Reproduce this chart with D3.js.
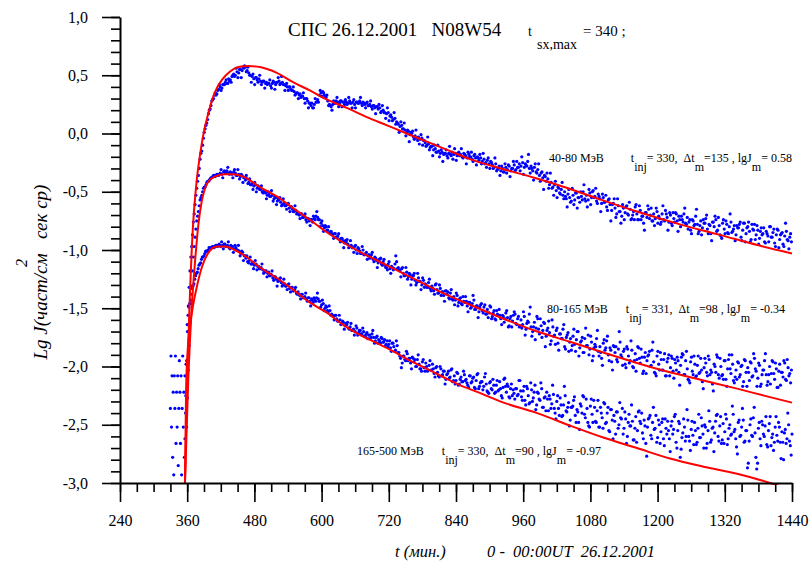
<!DOCTYPE html>
<html>
<head>
<meta charset="utf-8">
<script src="https://cdn.jsdelivr.net/npm/d3@7"></script>
<style>
  body { margin: 0; background: #fff; }
  text { font-family: "Liberation Serif", "Times New Roman", serif; fill: #000; }
</style>
</head>
<body>
<svg id="chart"></svg>
<script>
const width = 812, height = 564;

// axis ticks
const xTicks = [240, 360, 480, 600, 720, 840, 960, 1080, 1200, 1320, 1440];
const yTicks = [-3.0, -2.5, -2.0, -1.5, -1.0, -0.5, 0.0, 0.5, 1.0];

// measured points: two interleaved runs per channel, each one point every 3 min
const step = 3;

// 40-80 MeV
const s1Start = 356;
const s1Values = [
  -2.62, -1.95, -1.48, -1.18, -0.97, -0.76, -0.61, -0.47, -0.36, -0.22, -0.15, -0.04, 0.04, 0.09, 0.17, 0.21, 0.28, 0.30, 0.35, 0.34,
  0.38, 0.40, 0.39, 0.42, 0.44, 0.43, 0.47, 0.46, 0.49, 0.51, 0.50, 0.53, 0.52, 0.55, 0.54, 0.56, 0.57, 0.54, 0.52, 0.50,
  0.49, 0.47, 0.48, 0.46, 0.47, 0.45, 0.44, 0.45, 0.43, 0.42, 0.43, 0.41, 0.43, 0.44, 0.42, 0.44, 0.45, 0.43, 0.44, 0.42,
  0.41, 0.40, 0.40, 0.38, 0.37, 0.36, 0.34, 0.35, 0.33, 0.31, 0.32, 0.30, 0.30, 0.28, 0.26, 0.24, 0.22, 0.25, 0.27, 0.29,
  0.33, 0.35, 0.36, 0.33, 0.31, 0.28, 0.25, 0.23, 0.25, 0.26, 0.28, 0.27, 0.26, 0.28, 0.27, 0.25, 0.27, 0.26, 0.28, 0.26,
  0.27, 0.25, 0.27, 0.26, 0.28, 0.26, 0.27, 0.25, 0.26, 0.24, 0.25, 0.23, 0.24, 0.22, 0.23, 0.21, 0.22, 0.19, 0.20, 0.18,
  0.17, 0.18, 0.15, 0.14, 0.12, 0.13, 0.10, 0.08, 0.06, 0.07, 0.04, 0.03, 0.01, 0.02, -0.01, 0.00, -0.03, -0.02, -0.04, -0.03,
  -0.05, -0.04, -0.06, -0.08, -0.10, -0.09, -0.12, -0.11, -0.14, -0.13, -0.16, -0.15, -0.17, -0.16, -0.18, -0.17, -0.19, -0.17, -0.18, -0.16,
  -0.18, -0.17, -0.19, -0.16, -0.18, -0.20, -0.17, -0.19, -0.21, -0.18, -0.20, -0.22, -0.19, -0.21, -0.20, -0.23, -0.21, -0.24, -0.22, -0.25,
  -0.23, -0.26, -0.24, -0.27, -0.29, -0.26, -0.31, -0.28, -0.32, -0.30, -0.33, -0.29, -0.31, -0.28, -0.32, -0.30, -0.27, -0.31, -0.29, -0.26,
  -0.28, -0.25, -0.29, -0.27, -0.24, -0.30, -0.28, -0.32, -0.29, -0.33, -0.31, -0.36, -0.34, -0.38, -0.36, -0.41, -0.39, -0.44, -0.42, -0.46,
  -0.44, -0.49, -0.46, -0.51, -0.48, -0.53, -0.50, -0.56, -0.52, -0.55, -0.58, -0.53, -0.57, -0.51, -0.55, -0.59, -0.54, -0.50, -0.56, -0.53,
  -0.57, -0.51, -0.55, -0.49, -0.54, -0.58, -0.52, -0.56, -0.60, -0.55, -0.59, -0.63, -0.57, -0.61, -0.66, -0.60, -0.64, -0.69, -0.62, -0.67,
  -0.71, -0.64, -0.68, -0.62, -0.70, -0.65, -0.73, -0.67, -0.63, -0.69, -0.74, -0.66, -0.71, -0.77, -0.68, -0.72, -0.65, -0.70, -0.75, -0.69,
  -0.73, -0.67, -0.71, -0.78, -0.69, -0.74, -0.66, -0.72, -0.76, -0.70, -0.79, -0.73, -0.68, -0.75, -0.71, -0.80, -0.74, -0.69, -0.77, -0.72,
  -0.76, -0.83, -0.74, -0.79, -0.71, -0.78, -0.84, -0.75, -0.81, -0.77, -0.73, -0.82, -0.78, -0.86, -0.76, -0.80, -0.74, -0.83, -0.79, -0.88,
  -0.77, -0.82, -0.75, -0.85, -0.80, -0.76, -0.84, -0.79, -0.87, -0.81, -0.78, -0.89, -0.83, -0.77, -0.86, -0.80, -0.84, -0.91, -0.82, -0.78,
  -0.87, -0.83, -0.90, -0.81, -0.86, -0.93, -0.84, -0.88, -0.80, -0.89, -0.85, -0.94, -0.87, -0.83, -0.91, -0.86, -0.95, -0.88, -0.84, -0.92,
  -0.89, -0.93
];
const s1bStart = 357.5;
const s1bValues = [
  -2.25, -1.70, -1.32, -1.06, -0.87, -0.69, -0.53, -0.41, -0.30, -0.17, -0.10, 0.01, 0.07, 0.12, 0.20, 0.24, 0.29, 0.33, 0.33, 0.37,
  0.42, 0.37, 0.42, 0.42, 0.46, 0.43, 0.45, 0.44, 0.50, 0.49, 0.56, 0.48, 0.55, 0.48, 0.57, 0.58, 0.53, 0.57, 0.50, 0.44,
  0.51, 0.42, 0.48, 0.44, 0.50, 0.42, 0.45, 0.39, 0.44, 0.43, 0.46, 0.39, 0.45, 0.38, 0.44, 0.48, 0.42, 0.49, 0.42, 0.37,
  0.43, 0.37, 0.40, 0.37, 0.40, 0.33, 0.35, 0.30, 0.34, 0.32, 0.35, 0.26, 0.30, 0.22, 0.26, 0.26, 0.22, 0.30, 0.27, 0.27,
  0.37, 0.32, 0.35, 0.31, 0.33, 0.24, 0.24, 0.20, 0.28, 0.26, 0.31, 0.23, 0.28, 0.23, 0.27, 0.29, 0.25, 0.31, 0.26, 0.22,
  0.29, 0.22, 0.27, 0.26, 0.31, 0.24, 0.26, 0.22, 0.27, 0.24, 0.28, 0.21, 0.24, 0.17, 0.23, 0.25, 0.18, 0.24, 0.18, 0.13,
  0.22, 0.11, 0.16, 0.11, 0.18, 0.08, 0.09, 0.01, 0.10, 0.04, 0.09, -0.02, 0.03, -0.07, 0.01, 0.02, -0.05, 0.03, -0.06, -0.09,
  -0.01, -0.10, -0.06, -0.11, -0.03, -0.14, -0.11, -0.19, -0.10, -0.16, -0.10, -0.20, -0.14, -0.24, -0.17, -0.14, -0.21, -0.11, -0.19, -0.22,
  -0.13, -0.23, -0.17, -0.19, -0.13, -0.21, -0.18, -0.26, -0.16, -0.20, -0.16, -0.24, -0.18, -0.27, -0.21, -0.18, -0.26, -0.17, -0.26, -0.29,
  -0.21, -0.30, -0.25, -0.30, -0.21, -0.32, -0.30, -0.36, -0.28, -0.33, -0.26, -0.34, -0.27, -0.37, -0.30, -0.24, -0.32, -0.24, -0.29, -0.32,
  -0.20, -0.35, -0.26, -0.28, -0.18, -0.34, -0.30, -0.40, -0.26, -0.34, -0.26, -0.41, -0.33, -0.48, -0.37, -0.34, -0.47, -0.34, -0.47, -0.53,
  -0.41, -0.55, -0.47, -0.52, -0.42, -0.56, -0.54, -0.63, -0.48, -0.59, -0.47, -0.61, -0.51, -0.64, -0.55, -0.50, -0.57, -0.44, -0.58, -0.63,
  -0.48, -0.61, -0.50, -0.55, -0.47, -0.60, -0.54, -0.67, -0.52, -0.59, -0.53, -0.66, -0.56, -0.75, -0.61, -0.56, -0.72, -0.56, -0.67, -0.77,
  -0.61, -0.74, -0.63, -0.69, -0.59, -0.74, -0.70, -0.74, -0.61, -0.74, -0.62, -0.74, -0.71, -0.83, -0.68, -0.62, -0.73, -0.64, -0.75, -0.79,
  -0.64, -0.77, -0.73, -0.76, -0.62, -0.75, -0.69, -0.83, -0.68, -0.77, -0.68, -0.76, -0.69, -0.84, -0.74, -0.71, -0.76, -0.64, -0.78, -0.82,
  -0.74, -0.86, -0.75, -0.78, -0.65, -0.86, -0.79, -0.87, -0.74, -0.77, -0.70, -0.86, -0.79, -0.92, -0.76, -0.71, -0.84, -0.72, -0.87, -0.90,
  -0.74, -0.86, -0.78, -0.86, -0.69, -0.85, -0.82, -0.92, -0.79, -0.81, -0.76, -0.92, -0.77, -0.93, -0.81, -0.76, -0.93, -0.78, -0.83, -0.91,
  -0.79, -0.95, -0.84, -0.87, -0.81, -0.94, -0.86, -0.93, -0.80, -0.89, -0.82, -0.97, -0.82, -0.98, -0.87, -0.85, -0.97, -0.77, -0.91, -0.99,
  -0.86
];

// 80-165 MeV
const s2Start = 359;
const s2Values = [
  -2.52, -2.03, -1.62, -1.31, -1.06, -0.89, -0.75, -0.67, -0.57, -0.53, -0.47, -0.46, -0.42, -0.41, -0.39, -0.38, -0.36, -0.37, -0.35, -0.36,
  -0.34, -0.35, -0.33, -0.34, -0.32, -0.34, -0.33, -0.35, -0.33, -0.34, -0.36, -0.35, -0.37, -0.36, -0.38, -0.40, -0.39, -0.42, -0.44, -0.43,
  -0.45, -0.44, -0.47, -0.46, -0.48, -0.50, -0.49, -0.51, -0.53, -0.52, -0.54, -0.53, -0.56, -0.55, -0.58, -0.57, -0.59, -0.61, -0.60, -0.62,
  -0.61, -0.64, -0.63, -0.65, -0.67, -0.66, -0.68, -0.70, -0.69, -0.72, -0.71, -0.74, -0.73, -0.75, -0.74, -0.76, -0.73, -0.71, -0.72, -0.74,
  -0.77, -0.79, -0.81, -0.80, -0.83, -0.85, -0.84, -0.87, -0.86, -0.89, -0.88, -0.91, -0.90, -0.92, -0.94, -0.93, -0.95, -0.97, -0.96, -0.98,
  -0.97, -1.00, -0.98, -1.01, -1.03, -1.00, -1.04, -1.02, -1.05, -1.07, -1.04, -1.08, -1.06, -1.09, -1.11, -1.08, -1.12, -1.10, -1.13, -1.15,
  -1.12, -1.16, -1.14, -1.17, -1.12, -1.10, -1.15, -1.18, -1.16, -1.20, -1.22, -1.19, -1.23, -1.21, -1.25, -1.22, -1.26, -1.28, -1.24, -1.27,
  -1.30, -1.26, -1.29, -1.32, -1.28, -1.33, -1.31, -1.35, -1.30, -1.34, -1.37, -1.33, -1.36, -1.39, -1.35, -1.38, -1.41, -1.37, -1.42, -1.40,
  -1.43, -1.39, -1.45, -1.41, -1.47, -1.44, -1.40, -1.48, -1.45, -1.50, -1.46, -1.43, -1.51, -1.48, -1.53, -1.47, -1.52, -1.49, -1.55, -1.51,
  -1.54, -1.49, -1.57, -1.52, -1.60, -1.55, -1.51, -1.59, -1.56, -1.62, -1.54, -1.58, -1.65, -1.57, -1.61, -1.53, -1.63, -1.59, -1.66, -1.60,
  -1.64, -1.57, -1.68, -1.61, -1.55, -1.66, -1.70, -1.62, -1.67, -1.59, -1.72, -1.65, -1.69, -1.63, -1.74, -1.67, -1.71, -1.78, -1.66, -1.73,
  -1.69, -1.80, -1.72, -1.76, -1.68, -1.83, -1.75, -1.71, -1.79, -1.86, -1.74, -1.81, -1.77, -1.70, -1.84, -1.78, -1.88, -1.76, -1.82, -1.73,
  -1.85, -1.79, -1.91, -1.81, -1.76, -1.87, -1.83, -1.93, -1.80, -1.86, -1.78, -1.90, -1.84, -1.96, -1.82, -1.88, -1.94, -1.85, -1.79, -1.92,
  -1.87, -1.98, -1.83, -1.91, -1.95, -1.86, -2.01, -1.89, -1.94, -1.84, -1.97, -1.92, -2.04, -1.88, -1.95, -1.90, -2.00, -1.86, -1.96, -2.06,
  -1.91, -1.98, -1.88, -2.03, -1.94, -2.08, -1.96, -1.90, -2.01, -1.93, -2.10, -1.97, -1.92, -2.05, -1.99, -1.89, -2.07, -1.95, -2.02, -2.12,
  -1.96, -2.04, -1.91, -2.09, -1.99, -2.06, -1.93, -2.13, -2.01, -1.97, -2.08, -1.94, -2.03, -2.15, -1.98, -2.05, -1.92, -2.10, -2.00, -2.07,
  -1.95, -2.11, -2.02, -1.90, -2.06, -1.98, -2.14, -2.03, -1.96, -2.09, -2.00, -2.17, -1.94, -2.05, -2.01, -2.12, -1.97, -2.08, -1.93, -2.04,
  -2.10, -1.99, -2.15, -2.03, -1.95, -2.07, -2.13, -2.00, -2.06, -1.96, -2.11, -2.02, -2.18, -1.98, -2.05, -2.09, -1.97, -2.12, -2.01, -2.06,
  -2.03
];
const s2bStart = 360.5;
const s2bValues = [
  -2.27, -1.82, -1.46, -1.18, -0.97, -0.82, -0.71, -0.62, -0.55, -0.50, -0.46, -0.44, -0.41, -0.40, -0.38, -0.37, -0.36, -0.36, -0.35, -0.35,
  -0.31, -0.38, -0.32, -0.34, -0.29, -0.35, -0.34, -0.38, -0.31, -0.36, -0.31, -0.39, -0.35, -0.42, -0.38, -0.36, -0.43, -0.39, -0.44, -0.48,
  -0.42, -0.50, -0.45, -0.48, -0.45, -0.51, -0.50, -0.56, -0.50, -0.54, -0.49, -0.58, -0.54, -0.61, -0.56, -0.55, -0.62, -0.56, -0.62, -0.65,
  -0.60, -0.67, -0.63, -0.67, -0.62, -0.69, -0.69, -0.73, -0.69, -0.72, -0.69, -0.76, -0.73, -0.79, -0.74, -0.71, -0.74, -0.67, -0.74, -0.80,
  -0.75, -0.84, -0.79, -0.83, -0.80, -0.86, -0.86, -0.90, -0.86, -0.89, -0.86, -0.93, -0.90, -0.98, -0.92, -0.91, -0.98, -0.92, -0.98, -1.02,
  -0.96, -1.03, -0.99, -1.03, -0.97, -1.04, -1.03, -1.08, -1.04, -1.06, -1.02, -1.10, -1.07, -1.15, -1.08, -1.07, -1.13, -1.08, -1.15, -1.17,
  -1.10, -1.20, -1.15, -1.16, -1.05, -1.16, -1.17, -1.23, -1.15, -1.22, -1.15, -1.25, -1.20, -1.30, -1.22, -1.20, -1.30, -1.20, -1.27, -1.34,
  -1.24, -1.32, -1.30, -1.32, -1.25, -1.35, -1.33, -1.38, -1.29, -1.37, -1.30, -1.39, -1.36, -1.44, -1.35, -1.36, -1.42, -1.34, -1.43, -1.47,
  -1.37, -1.48, -1.42, -1.46, -1.40, -1.45, -1.44, -1.53, -1.45, -1.49, -1.39, -1.51, -1.48, -1.58, -1.49, -1.46, -1.54, -1.47, -1.55, -1.58,
  -1.48, -1.59, -1.54, -1.59, -1.52, -1.56, -1.56, -1.64, -1.57, -1.59, -1.52, -1.66, -1.59, -1.66, -1.56, -1.55, -1.64, -1.57, -1.65, -1.67,
  -1.53, -1.73, -1.63, -1.62, -1.49, -1.74, -1.66, -1.77, -1.57, -1.68, -1.59, -1.75, -1.62, -1.83, -1.69, -1.61, -1.81, -1.60, -1.74, -1.81,
  -1.67, -1.86, -1.72, -1.76, -1.64, -1.85, -1.73, -1.87, -1.76, -1.82, -1.68, -1.87, -1.70, -1.91, -1.79, -1.75, -1.88, -1.67, -1.82, -1.90,
  -1.74, -1.95, -1.84, -1.83, -1.69, -1.91, -1.88, -1.99, -1.77, -1.84, -1.74, -1.95, -1.86, -2.03, -1.83, -1.83, -1.96, -1.70, -1.90, -1.99,
  -1.85, -2.01, -1.85, -1.97, -1.78, -2.00, -1.95, -2.04, -1.83, -1.93, -1.85, -2.06, -1.92, -2.06, -1.91, -1.87, -1.99, -1.79, -2.05, -2.08,
  -1.87, -2.03, -1.94, -2.03, -1.89, -2.08, -1.93, -2.08, -1.91, -2.04, -1.94, -2.03, -1.95, -2.16, -1.92, -1.90, -2.07, -1.87, -2.11, -2.14,
  -1.92, -2.07, -1.98, -2.08, -1.91, -2.05, -2.03, -2.19, -1.93, -2.05, -1.91, -2.07, -2.05, -2.21, -2.00, -1.90, -2.07, -1.93, -2.08, -2.11,
  -1.95, -2.17, -1.94, -2.02, -1.90, -2.12, -2.09, -2.11, -1.97, -2.07, -1.99, -2.13, -1.95, -2.17, -2.05, -1.96, -2.09, -1.89, -2.02, -2.17,
  -1.97, -2.17, -2.07, -2.03, -1.89, -2.16, -2.07, -2.15, -1.95, -2.06, -1.97, -2.18, -2.04, -2.16, -2.05, -1.95, -2.11, -1.94, -2.08, -2.14
];

// 165-500 MeV: background before onset (1 min), then the event
const s3BgStart = 330;
const s3BgValues = [
  -2.36, -1.91, -2.52, -2.08, -2.78, -2.22, -2.93, -2.08, -2.36, -1.91, -2.66, -2.22, -2.52, -2.08, -2.85,
  -2.36, -1.95, -2.22, -2.66, -2.08, -2.93, -2.36, -1.91, -2.52, -2.22, -2.78, -2.08, -2.40, -1.98
];
const s3Start = 360;
const s3Values = [
  -1.64, -1.49, -1.43, -1.33, -1.29, -1.22, -1.19, -1.13, -1.11, -1.06, -1.05, -1.01, -1.01, -0.98, -0.99, -0.97, -0.98, -0.96, -0.97, -0.95,
  -0.97, -0.96, -0.95, -0.97, -0.96, -0.98, -0.96, -0.97, -0.99, -0.98, -1.00, -1.01, -1.03, -1.02, -1.05, -1.07, -1.10, -1.09, -1.12, -1.11,
  -1.13, -1.12, -1.14, -1.16, -1.15, -1.17, -1.19, -1.18, -1.20, -1.22, -1.21, -1.24, -1.23, -1.25, -1.27, -1.26, -1.28, -1.30, -1.29, -1.31,
  -1.30, -1.33, -1.32, -1.35, -1.34, -1.37, -1.36, -1.39, -1.38, -1.41, -1.40, -1.42, -1.41, -1.44, -1.42, -1.45, -1.43, -1.41, -1.42, -1.44,
  -1.47, -1.46, -1.50, -1.49, -1.53, -1.52, -1.55, -1.57, -1.56, -1.59, -1.61, -1.60, -1.63, -1.62, -1.65, -1.64, -1.67, -1.66, -1.69, -1.68,
  -1.70, -1.67, -1.71, -1.69, -1.72, -1.70, -1.74, -1.71, -1.73, -1.76, -1.72, -1.75, -1.78, -1.74, -1.77, -1.80, -1.76, -1.79, -1.82, -1.78,
  -1.81, -1.84, -1.80, -1.83, -1.86, -1.82, -1.88, -1.93, -1.97, -1.91, -1.95, -1.89, -1.93, -1.97, -1.92, -1.96, -2.00, -1.94, -1.98, -2.02,
  -1.96, -2.01, -1.97, -2.04, -1.99, -2.03, -1.98, -2.06, -2.01, -2.05, -2.09, -2.02, -2.07, -2.04, -2.11, -2.06, -2.10, -2.03, -2.13, -2.08,
  -2.12, -2.06, -2.15, -2.09, -2.13, -2.07, -2.11, -2.16, -2.08, -2.14, -2.10, -2.18, -2.12, -2.06, -2.17, -2.13, -2.20, -2.09, -2.15, -2.22,
  -2.14, -2.19, -2.11, -2.23, -2.16, -2.21, -2.13, -2.25, -2.18, -2.10, -2.22, -2.17, -2.27, -2.15, -2.20, -2.28, -2.19, -2.24, -2.12, -2.26,
  -2.21, -2.29, -2.17, -2.25, -2.31, -2.20, -2.27, -2.16, -2.33, -2.23, -2.29, -2.19, -2.35, -2.26, -2.22, -2.38, -2.28, -2.32, -2.24, -2.40,
  -2.30, -2.36, -2.27, -2.43, -2.33, -2.25, -2.39, -2.31, -2.46, -2.35, -2.29, -2.42, -2.37, -2.48, -2.32, -2.40, -2.26, -2.44, -2.36, -2.51,
  -2.34, -2.41, -2.29, -2.47, -2.38, -2.52, -2.35, -2.44, -2.31, -2.49, -2.40, -2.55, -2.37, -2.46, -2.42, -2.58, -2.39, -2.50, -2.44, -2.36,
  -2.53, -2.45, -2.60, -2.41, -2.51, -2.47, -2.63, -2.43, -2.55, -2.38, -2.49, -2.57, -2.46, -2.66, -2.52, -2.44, -2.59, -2.48, -2.54, -2.42,
  -2.61, -2.50, -2.56, -2.45, -2.68, -2.53, -2.47, -2.62, -2.51, -2.58, -2.43, -2.65, -2.55, -2.49, -2.71, -2.57, -2.52, -2.60, -2.46, -2.64,
  -2.54, -2.59, -2.48, -2.67, -2.53, -2.61, -2.44, -2.58, -2.50, -2.70, -2.55, -2.47, -2.63, -2.52, -2.57, -2.42, -2.60, -2.51, -2.66, -2.49,
  -2.56, -2.45, -2.62, -2.50, -2.58, -2.41, -2.54, -2.69, -2.48, -2.60, -2.52, -2.46, -2.64, -2.55, -2.83, -2.50, -2.59, -2.44, -2.57, -2.88,
  -2.53, -2.62, -2.47, -2.58, -2.51, -2.67, -2.55, -2.43, -2.61, -2.72, -2.52, -2.59, -2.48, -2.65, -2.56, -2.80, -2.54, -2.62, -2.50, -2.68,
  -2.58
];
const s3bStart = 361.5;
const s3bValues = [
  -1.56, -1.46, -1.38, -1.31, -1.25, -1.20, -1.16, -1.12, -1.08, -1.06, -1.03, -1.01, -1.00, -0.98, -0.98, -0.97, -0.97, -0.96, -0.96, -0.96,
  -0.93, -0.99, -0.95, -0.97, -0.93, -0.99, -0.97, -1.02, -0.96, -1.00, -0.96, -1.05, -1.01, -1.09, -1.05, -1.05, -1.11, -1.06, -1.12, -1.16,
  -1.09, -1.17, -1.14, -1.16, -1.12, -1.20, -1.18, -1.23, -1.19, -1.22, -1.18, -1.26, -1.23, -1.31, -1.25, -1.24, -1.31, -1.25, -1.31, -1.34,
  -1.29, -1.36, -1.32, -1.35, -1.32, -1.38, -1.38, -1.42, -1.38, -1.41, -1.37, -1.44, -1.41, -1.48, -1.43, -1.41, -1.44, -1.37, -1.44, -1.49,
  -1.43, -1.52, -1.48, -1.52, -1.48, -1.56, -1.56, -1.60, -1.56, -1.61, -1.56, -1.64, -1.61, -1.68, -1.63, -1.62, -1.68, -1.63, -1.69, -1.73,
  -1.65, -1.73, -1.69, -1.72, -1.67, -1.74, -1.72, -1.76, -1.73, -1.75, -1.69, -1.80, -1.75, -1.80, -1.78, -1.75, -1.79, -1.77, -1.81, -1.83,
  -1.78, -1.87, -1.80, -1.87, -1.78, -1.88, -1.91, -2.01, -1.91, -1.94, -1.87, -1.95, -1.93, -2.02, -1.93, -1.94, -2.00, -1.90, -2.02, -2.04,
  -1.94, -2.04, -2.00, -2.03, -1.95, -2.03, -2.02, -2.09, -2.00, -2.08, -2.00, -2.08, -2.04, -2.15, -2.07, -2.04, -2.09, -2.02, -2.12, -2.15,
  -2.05, -2.16, -2.11, -2.13, -2.04, -2.12, -2.14, -2.18, -2.08, -2.13, -2.09, -2.19, -2.07, -2.19, -2.14, -2.13, -2.17, -2.06, -2.21, -2.23,
  -2.13, -2.20, -2.16, -2.22, -2.12, -2.20, -2.19, -2.27, -2.11, -2.17, -2.15, -2.26, -2.19, -2.25, -2.23, -2.19, -2.25, -2.12, -2.21, -2.29,
  -2.17, -2.33, -2.19, -2.32, -2.14, -2.30, -2.22, -2.37, -2.22, -2.28, -2.14, -2.35, -2.27, -2.38, -2.28, -2.25, -2.36, -2.16, -2.36, -2.45,
  -2.25, -2.42, -2.33, -2.42, -2.17, -2.38, -2.35, -2.51, -2.35, -2.34, -2.26, -2.48, -2.39, -2.54, -2.34, -2.25, -2.41, -2.28, -2.48, -2.52,
  -2.28, -2.48, -2.35, -2.48, -2.29, -2.52, -2.40, -2.53, -2.32, -2.48, -2.35, -2.56, -2.37, -2.62, -2.47, -2.39, -2.53, -2.31, -2.45, -2.58,
  -2.39, -2.66, -2.48, -2.51, -2.33, -2.63, -2.53, -2.65, -2.39, -2.47, -2.40, -2.62, -2.51, -2.77, -2.45, -2.42, -2.62, -2.35, -2.53, -2.65,
  -2.46, -2.66, -2.48, -2.62, -2.45, -2.58, -2.55, -2.73, -2.47, -2.54, -2.41, -2.70, -2.47, -2.78, -2.61, -2.45, -2.64, -2.37, -2.60, -2.72,
  -2.47, -2.67, -2.55, -2.65, -2.41, -2.61, -2.51, -2.70, -2.52, -2.66, -2.38, -2.65, -2.53, -2.73, -2.47, -2.41, -2.64, -2.43, -2.63, -2.66,
  -2.41, -2.67, -2.53, -2.59, -2.34, -2.56, -2.62, -2.75, -2.46, -2.59, -2.36, -2.65, -2.55, -2.87, -2.64, -2.45, -2.60, -2.35, -2.78, -2.83,
  -2.48, -2.68, -2.50, -2.60, -2.43, -2.69, -2.49, -2.68, -2.58, -2.65, -2.43, -2.64, -2.52, -2.79, -2.65, -2.57, -2.66, -2.40, -2.64, -2.76
];

// fitted curves
const fit1T = [356, 360, 364, 370, 376, 383, 390, 397, 406, 414, 422, 436, 451, 469, 490, 520, 549, 579, 610, 645, 681, 717, 752, 788, 824, 865, 920, 980, 1040, 1100, 1163, 1240, 1311, 1380, 1440];
const fit1V = [-3.0, -2.1, -1.5, -0.82, -0.45, -0.18, 0.02, 0.16, 0.31, 0.40, 0.46, 0.53, 0.57, 0.58, 0.57, 0.52, 0.44, 0.37, 0.29, 0.22, 0.14, 0.07, 0.0, -0.07, -0.14, -0.22, -0.30, -0.38, -0.47, -0.57, -0.67, -0.78, -0.87, -0.96, -1.03];
const fit2T = [356, 362, 368, 374, 380, 386, 392, 398, 410, 427, 442, 460, 490, 520, 549, 579, 610, 640, 670, 699, 758, 817, 865, 925, 985, 1045, 1103, 1163, 1222, 1282, 1342, 1390, 1440];
const fit2V = [-3.0, -2.1, -1.5, -1.1, -0.78, -0.58, -0.47, -0.41, -0.37, -0.35, -0.35, -0.37, -0.46, -0.54, -0.64, -0.74, -0.85, -0.94, -1.02, -1.09, -1.23, -1.37, -1.47, -1.59, -1.70, -1.79, -1.88, -1.97, -2.05, -2.12, -2.19, -2.25, -2.31];
const fit3T = [356, 358, 361, 365, 370, 377, 386, 397, 413, 427, 445, 466, 490, 520, 549, 579, 610, 638, 669, 699, 728, 758, 788, 817, 847, 879, 925, 985, 1045, 1103, 1163, 1222, 1282, 1342, 1401, 1420];
const fit3V = [-3.0, -2.2, -1.85, -1.65, -1.49, -1.32, -1.15, -1.03, -0.97, -0.97, -1.0, -1.06, -1.15, -1.24, -1.34, -1.45, -1.54, -1.64, -1.73, -1.80, -1.87, -1.95, -2.02, -2.09, -2.16, -2.22, -2.31, -2.40, -2.51, -2.61, -2.70, -2.79, -2.86, -2.92, -3.0, -3.03];

const svg = d3.select("#chart")
    .attr("width", width)
    .attr("height", height);

const x = d3.scaleLinear().domain([240, 1440]).range([120, 792]);
const y = d3.scaleLinear().domain([-3, 1]).range([483, 17]);

svg.append("clipPath").attr("id", "plot-clip")
  .append("rect")
    .attr("x", x(240)).attr("y", y(1) - 2)
    .attr("width", x(1440) - x(240) + 3)
    .attr("height", y(-3) - y(1) + 4);

const plot = svg.append("g").attr("clip-path", "url(#plot-clip)");

function points(start, dt, values) {
  return values.map((v, i) => ({ t: start + i * dt, v: v }));
}

const allPoints = [].concat(
  points(s1Start, step, s1Values),
  points(s1bStart, step, s1bValues),
  points(s2Start, step, s2Values),
  points(s2bStart, step, s2bValues),
  points(s3BgStart, 1, s3BgValues),
  points(s3Start, step, s3Values),
  points(s3bStart, step, s3bValues)
);

plot.selectAll("circle")
  .data(allPoints)
  .enter()
    .append("circle")
    .attr("cx", d => x(d.t))
    .attr("cy", d => y(d.v))
    .attr("r", 1.6)
    .attr("fill", "#0000ff");

const line = d3.line()
    .x(d => x(d[0]))
    .y(d => y(d[1]))
    .curve(d3.curveMonotoneX);

[[fit1T, fit1V], [fit2T, fit2V], [fit3T, fit3V]].forEach(function(f) {
  plot.append("path")
    .datum(f[0].map((t, i) => [t, f[1][i]]))
    .attr("d", line)
    .attr("fill", "none")
    .attr("stroke", "#ff0000")
    .attr("stroke-width", 2);
});

// axes
const fmt = d => d.toFixed(1).replace(".", ",");

svg.append("g")
    .attr("transform", "translate(" + x(240) + ",0)")
    .call(d3.axisLeft(y).tickValues(d3.range(-30, 11).map(d => d / 10)).tickSize(9).tickFormat("").tickSizeOuter(0))
    .call(g => g.select(".domain").remove());

svg.append("g")
    .attr("transform", "translate(" + x(240) + ",0)")
    .call(d3.axisLeft(y).tickValues(yTicks).tickSize(18).tickPadding(14).tickFormat(fmt).tickSizeOuter(0));

svg.append("g")
    .attr("transform", "translate(0," + y(-3) + ")")
    .call(d3.axisBottom(x).tickValues(d3.range(240, 1441, 30)).tickSize(9).tickFormat("").tickSizeOuter(0))
    .call(g => g.select(".domain").remove());

svg.append("g")
    .attr("transform", "translate(0," + y(-3) + ")")
    .call(d3.axisBottom(x).tickValues(xTicks).tickSize(19).tickPadding(13).tickFormat(d3.format("d")).tickSizeOuter(0));

svg.selectAll(".domain").attr("stroke", "#000").attr("stroke-width", 2);
svg.selectAll(".tick line").attr("stroke", "#000").attr("stroke-width", 1.6);
svg.selectAll(".tick text")
    .attr("font-family", '"Liberation Serif", serif')
    .attr("font-size", 16)
    .attr("fill", "#000");

// texts
function label(str, px, py, size) {
  return svg.append("text")
      .attr("x", px).attr("y", py)
      .attr("font-size", size)
      .style("white-space", "pre")
      .text(str);
}

label("СПС 26.12.2001   N08W54", 288, 36, 19);
label("t", 528, 36, 14);
label("sx,max", 537, 49, 14);
label("= 340 ;", 583, 36, 15);

// annotation line with subscripts: parts alternate normal / subscript
function note(px, py, parts) {
  const t = svg.append("text")
      .attr("x", px).attr("y", py)
      .attr("font-size", 12)
      .style("white-space", "pre");
  parts.forEach((p, i) => {
    t.append("tspan")
      .attr("dy", i === 0 ? 0 : (i % 2 === 1 ? 9 : -9))
      .text(p);
  });
}

note(549, 162, ["40-80 МэВ         t", "inj", "= 330,  Δt", "m", "=135 , lgJ", "m", "= 0.58"]);
note(547, 313, ["80-165 МэВ      t", "inj", "= 331,  Δt", "m", "=98 , lgJ", "m", "= -0.34"]);
note(357, 455, ["165-500 МэВ      t", "inj", "= 330,  Δt", "m", "=90 , lgJ", "m", "= -0.97"]);

label("t (мин.)", 395, 557, 16.5).attr("font-style", "italic");
label("0 -  00:00UT  26.12.2001", 487, 557, 16.5).attr("font-style", "italic");

svg.append("text")
    .attr("transform", "translate(47,272) rotate(-90)")
    .attr("text-anchor", "middle")
    .attr("font-size", 19)
    .attr("font-style", "italic")
    .style("white-space", "pre")
    .text("Lg J(част/см   сек ср)");
svg.append("text")
    .attr("transform", "translate(27,263) rotate(-90)")
    .attr("text-anchor", "middle")
    .attr("font-size", 16)
    .attr("font-style", "italic")
    .text("2");
</script>
</body>
</html>
